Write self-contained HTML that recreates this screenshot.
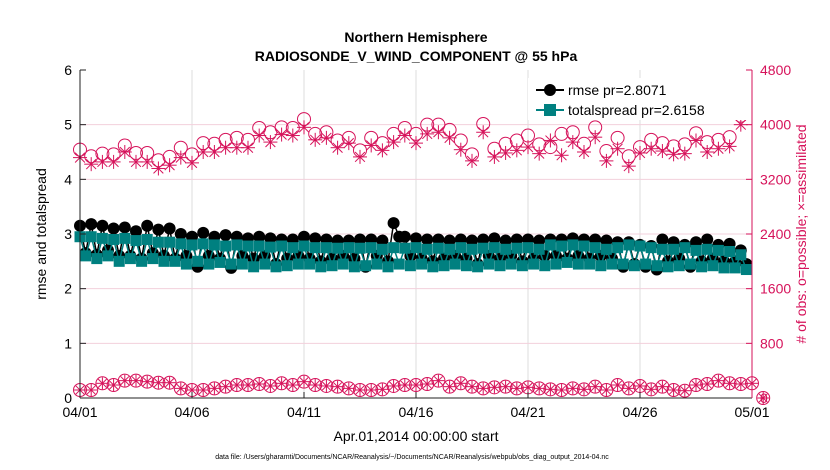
<!DOCTYPE html>
<html><head><meta charset="utf-8"><style>
body{margin:0;background:#fff;}
svg{display:block;font-family:"Liberation Sans",Arial,sans-serif;}
</style></head><body>
<svg id="chart" width="830" height="470">
<text x="416" y="42" text-anchor="middle" font-size="14" font-weight="bold">Northern Hemisphere</text>
<text x="416" y="61" text-anchor="middle" font-size="14" font-weight="bold">RADIOSONDE_V_WIND_COMPONENT @ 55 hPa</text>
<g id="grid"></g>
<g id="marks"></g>
<g id="axes"></g>
<text transform="translate(46,234) rotate(-90)" text-anchor="middle" font-size="14">rmse and totalspread</text>
<text transform="translate(806,234) rotate(-90)" text-anchor="middle" font-size="14" fill="#d6125a"># of obs: o=possible; ×=assimilated</text>
<text x="416" y="441" text-anchor="middle" font-size="14">Apr.01,2014 00:00:00 start</text>
<text x="412" y="459" text-anchor="middle" font-size="7">data file: /Users/gharamti/Documents/NCAR/Reanalysis/~/Documents/NCAR/Reanalysis/webpub/obs_diag_output_2014-04.nc</text>
<g>
<rect x="528" y="78" width="222" height="42" fill="#fff"/>
<line x1="536" y1="90" x2="564" y2="90" stroke="#000" stroke-width="2"/>
<circle cx="550" cy="90" r="6" fill="#000"/>
<text x="568" y="95" font-size="14">rmse pr=2.8071</text>
<line x1="536" y1="110" x2="564" y2="110" stroke="#008080" stroke-width="2"/>
<rect x="544" y="104" width="12" height="12" fill="#008080"/>
<text x="568" y="115" font-size="14">totalspread pr=2.6158</text>
</g>
</svg>
<script>
const xTickLabels=["04/01","04/06","04/11","04/16","04/21","04/26","05/01"];
const xTickDays=[0,5,10,15,20,25,30];
const yLeftTicks=[0,1,2,3,4,5,6];
const yRightTicks=[0,800,1600,2400,3200,4000,4800];
const rmse=[3.15,2.65,3.18,2.62,3.15,2.7,3.1,2.6,3.12,2.6,3.05,2.55,3.15,2.65,3.08,2.6,3.1,2.55,3.0,2.6,2.95,2.4,3.02,2.6,2.95,2.55,2.98,2.38,2.95,2.6,2.92,2.55,2.95,2.6,2.92,2.45,2.9,2.55,2.9,2.6,2.95,2.55,2.92,2.5,2.9,2.55,2.88,2.6,2.88,2.55,2.9,2.4,2.9,2.6,2.88,2.5,3.2,2.95,2.95,2.6,2.92,2.55,2.9,2.5,2.9,2.55,2.88,2.6,2.9,2.55,2.88,2.45,2.9,2.6,2.92,2.55,2.88,2.6,2.9,2.5,2.9,2.55,2.88,2.6,2.9,2.6,2.9,2.55,2.92,2.6,2.9,2.55,2.9,2.6,2.88,2.55,2.85,2.4,2.85,2.45,2.8,2.4,2.78,2.35,2.9,2.5,2.85,2.55,2.8,2.4,2.85,2.5,2.9,2.55,2.8,2.5,2.82,2.5,2.7,2.45];
const spread=[2.95,2.6,2.95,2.55,2.92,2.6,2.9,2.5,2.92,2.55,2.88,2.5,2.9,2.55,2.85,2.5,2.85,2.5,2.82,2.45,2.8,2.5,2.82,2.45,2.8,2.48,2.78,2.45,2.8,2.45,2.78,2.4,2.78,2.45,2.76,2.4,2.78,2.42,2.75,2.45,2.78,2.45,2.75,2.4,2.75,2.42,2.74,2.45,2.75,2.4,2.74,2.42,2.75,2.45,2.72,2.4,2.75,2.45,2.74,2.42,2.75,2.45,2.72,2.4,2.74,2.42,2.72,2.45,2.75,2.42,2.72,2.4,2.74,2.45,2.75,2.42,2.72,2.45,2.74,2.42,2.75,2.45,2.72,2.42,2.8,2.45,2.78,2.48,2.8,2.45,2.78,2.45,2.75,2.42,2.72,2.45,2.75,2.45,2.8,2.42,2.78,2.45,2.75,2.42,2.72,2.4,2.72,2.42,2.75,2.45,2.7,2.4,2.72,2.42,2.7,2.38,2.68,2.38,2.62,2.35];
const possibleTop=[3634,3537,3576,3566,3696,3586,3586,3480,3528,3663,3566,3730,3720,3778,3807,3778,3952,3889,3961,3952,4082,3865,3889,3769,3807,3624,3807,3730,3865,3952,3865,4000,4000,3923,3769,3566,4010,3648,3720,3769,3841,3711,3672,3865,3889,3720,3961,3614,3807,3537,3672,3778,3730,3682,3711,3875,3745,3778,3817,4130,null];
const assimTop=[3518,3422,3455,3455,3600,3455,3455,3359,3407,3518,3441,3600,3600,3663,3663,3663,3841,3745,3855,3841,3961,3778,3807,3663,3730,3528,3696,3624,3745,3841,3730,3865,3889,3807,3634,3470,3889,3528,3586,3624,3672,3576,3769,3552,3745,3600,3817,3470,3648,3393,3586,3648,3614,3566,3576,3769,3600,3648,3682,4000,null];
const countBottom=[117,117,215,190,254,254,239,224,224,141,117,117,141,166,190,190,205,176,215,190,239,190,176,166,141,117,117,127,176,190,190,205,254,166,215,166,141,156,166,141,156,141,127,117,141,127,166,117,190,141,176,127,166,117,107,190,205,254,215,205,215,0];
const X0=80,X1=752,Y0=398,Y1=70;
const xDay=d=>X0+(d/30)*(X1-X0);
const yL=v=>Y0-(v/6)*(Y0-Y1);
const yR=v=>Y0-(v/4800)*(Y0-Y1);
const NS="http://www.w3.org/2000/svg";
function mk(parent,tag,attrs){const e=document.createElementNS(NS,tag);for(const k in attrs)e.setAttribute(k,attrs[k]);parent.appendChild(e);return e;}
const grid=document.getElementById('grid'),marks=document.getElementById('marks'),axes=document.getElementById('axes');
xTickDays.forEach((d,i)=>{
 if(i>0&&i<xTickDays.length-1){const g=mk(grid,'line',{x1:xDay(d),x2:xDay(d),y1:Y1,y2:Y0,stroke:'#dcdcdc','stroke-width':1});
 
 }
 const t=mk(axes,'text',{x:xDay(d),y:Y0+19,'text-anchor':'middle','font-size':14});t.textContent=xTickLabels[i];
 
 
 mk(axes,'line',{x1:xDay(d),x2:xDay(d),y1:Y0,y2:Y0-6,stroke:'#222'});
});
yRightTicks.forEach((v,i)=>{
 if(i>0&&i<yRightTicks.length-1){const g=mk(grid,'line',{x1:X0,x2:X1,y1:yR(v),y2:yR(v),stroke:'#f3d0dc','stroke-width':1});
 
 }
 const t=mk(axes,'text',{x:X1+8,y:yR(v)+5,'font-size':14,fill:'#d6125a'});t.textContent=v;
 
 
 mk(axes,'line',{x1:X1,x2:X1-6,y1:yR(v),y2:yR(v),stroke:'#d6125a'});
});
yLeftTicks.forEach(v=>{
 const t=mk(axes,'text',{x:X0-8,y:yL(v)+5,'text-anchor':'end','font-size':14});t.textContent=v;
 
 
 mk(axes,'line',{x1:X0,x2:X0+6,y1:yL(v),y2:yL(v),stroke:'#222'});
});
mk(axes,'line',{x1:X0,x2:X0,y1:Y1,y2:Y0,stroke:'#222'});
mk(axes,'line',{x1:X0,x2:X1,y1:Y0,y2:Y0,stroke:'#222'});
const ra=mk(axes,'line',{x1:X1,x2:X1,y1:Y1,y2:Y0,stroke:'#d6125a'});


// count series
function star(x,y,s,cls){const g=mk(marks,'g',{stroke:'#d6125a','stroke-width':1,fill:'none'});
 
 
 mk(g,'line',{x1:x-s,x2:x+s,y1:y,y2:y});mk(g,'line',{x1:x,x2:x,y1:y-s,y2:y+s});
 mk(g,'line',{x1:x-s*.7,x2:x+s*.7,y1:y-s*.7,y2:y+s*.7});mk(g,'line',{x1:x-s*.7,x2:x+s*.7,y1:y+s*.7,y2:y-s*.7});}
function ring(x,y){const c=mk(marks,'circle',{cx:x,cy:y,r:6.5,fill:'none',stroke:'#d6125a','stroke-width':1});
 
 }
possibleTop.forEach((v,i)=>{if(v!==null)ring(xDay(i*0.5),yR(v));});
assimTop.forEach((v,i)=>{if(v!==null)star(xDay(i*0.5),yR(v),7,'assimilated-obs-point');});
countBottom.forEach((v,i)=>{ring(xDay(i*0.5),yR(v));star(xDay(i*0.5),yR(v),6,'assimilated-obs-point-low');});
// rmse & spread
function poly(arr,color,name){const pts=arr.map((v,i)=>xDay(i*0.25)+','+yL(v)).join(' ');
 const p=mk(marks,'polyline',{points:pts,fill:'none',stroke:color,'stroke-width':1.5});
 
 }
poly(rmse,'#000','rmse-line');
rmse.forEach((v,i)=>{const c=mk(marks,'circle',{cx:xDay(i*0.25),cy:yL(v),r:6,fill:'#000'});
 
 });
poly(spread,'#008080','totalspread-line');
spread.forEach((v,i)=>{const r=mk(marks,'rect',{x:xDay(i*0.25)-5.5,y:yL(v)-5.5,width:11,height:11,fill:'#008080'});
 
 });
</script>
</body></html>
